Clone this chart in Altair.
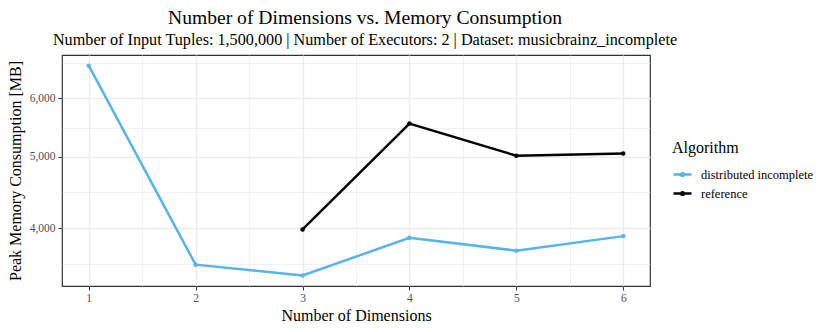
import math
import altair as alt
import pandas as pd

# ---- data ----
dims = [1, 2, 3, 4, 5, 6]
dist_incomplete = [6646, 3569, 3450, 3882, 3729, 3902]
ref_dims = [3, 4, 5, 6]
reference = [3984, 5546, 5016, 5052]
algorithms = ["distributed incomplete", "reference"]
colors = ["#56B4E9", "#000000"]

y_major = [4000, 5000, 6000]
x_major = [1, 2, 3, 4, 5, 6]

rows = [{"dim": d, "mem": v, "Algorithm": algorithms[0]} for d, v in zip(dims, dist_incomplete)]
rows += [{"dim": d, "mem": v, "Algorithm": algorithms[1]} for d, v in zip(ref_dims, reference)]
df = pd.DataFrame(rows)

# minor grid positions (ggplot style: midpoints in transformed space)
y_minor = [math.sqrt(a * b) for a, b in zip(y_major[:-1], y_major[1:])]
y_minor = [y_major[0] / math.sqrt(y_major[1] / y_major[0])] + y_minor + [y_major[-1] * math.sqrt(y_major[1] / y_major[0])]
x_minor = [x + 0.5 for x in x_major[:-1]]

FONT = "Liberation Serif"
maj_y_test = "indexof([4000,5000,6000], datum.value) >= 0"
maj_x_test = "datum.value == floor(datum.value)"

x_axis = alt.Axis(
    values=x_major + x_minor,
    title="Number of Dimensions",
    labelExpr="datum.value == floor(datum.value) ? format(datum.value, 'd') : ''",
    gridColor="#EBEBEB",
    gridWidth={"condition": {"test": maj_x_test, "value": 1.3}, "value": 0.7},
    tickOpacity={"condition": {"test": maj_x_test, "value": 1}, "value": 0},
    tickColor="#333333", tickSize=4, tickWidth=1,
    domain=False,
    labelFont=FONT, labelFontSize=11.5, labelColor="#4D4D4D", labelPadding=2,
    titleFont=FONT, titleFontSize=16, titleFontWeight="normal", titleColor="#000000", titlePadding=4,
)
y_axis = alt.Axis(
    values=y_major + y_minor,
    title="Peak Memory Consumption [MB]",
    labelExpr=maj_y_test + " ? format(datum.value, ',') : ''",
    gridColor="#EBEBEB",
    gridWidth={"condition": {"test": maj_y_test, "value": 1.3}, "value": 0.7},
    tickOpacity={"condition": {"test": maj_y_test, "value": 1}, "value": 0},
    tickColor="#333333", tickSize=4, tickWidth=1,
    domain=False,
    labelFont=FONT, labelFontSize=11.5, labelColor="#4D4D4D", labelPadding=3,
    titleFont=FONT, titleFontSize=16, titleFontWeight="normal", titleColor="#000000", titlePadding=6,
)

base = alt.Chart(df).encode(
    x=alt.X("dim:Q", scale=alt.Scale(domain=[0.75, 6.25], nice=False, zero=False), axis=x_axis),
    y=alt.Y("mem:Q", scale=alt.Scale(type="log", domain=[3339, 6871], nice=False), axis=y_axis),
    color=alt.Color(
        "Algorithm:N",
        scale=alt.Scale(domain=algorithms, range=colors),
        legend=alt.Legend(
            title="Algorithm", orient="none", legendX=610, legendY=85,
            symbolType="M-1,0L1,0M-0.15,0A0.15,0.15 0 1,0 0.15,0A0.15,0.15 0 1,0 -0.15,0Z",
            symbolSize=324, symbolStrokeWidth=2.5,
            titleFont=FONT, titleFontSize=16, titleFontWeight="normal", titleColor="#000000", titlePadding=8,
            labelFont=FONT, labelFontSize=12.5, labelColor="#000000", labelOffset=8,
            rowPadding=2,
        ),
    ),
)

lines = base.mark_line(strokeWidth=2.5)
points = base.mark_point(filled=True, size=20, opacity=1)

chart = alt.layer(lines, points).properties(
    width=588, height=231,
    title=alt.Title(
        "Number of Dimensions vs. Memory Consumption",
        subtitle="Number of Input Tuples: 1,500,000 | Number of Executors: 2 | Dataset: musicbrainz_incomplete",
        font=FONT, fontSize=19.6, fontWeight="normal", color="#000000",
        subtitleFont=FONT, subtitleFontSize=16.2, subtitleColor="#000000", subtitlePadding=3,
        anchor="middle", frame="group", offset=6, dx=9,
    ),
    autosize=alt.AutoSizeParams(type="none"),
    padding={"left": 54, "top": 47, "right": 172, "bottom": 38},
).configure_view(stroke="#333333", strokeWidth=1.2)

chart.save("out.html", embed_options={"renderer": "svg", "actions": False})
